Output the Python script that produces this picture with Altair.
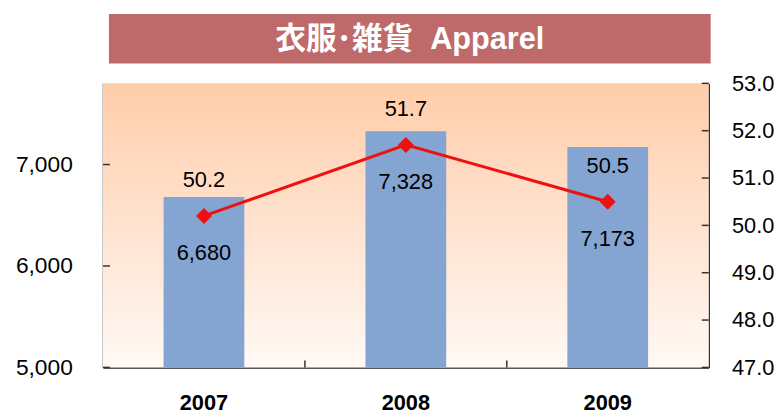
import altair as alt
import pandas as pd

# ---- data ----
years = ["2007", "2008", "2009"]
sales = [6680, 7328, 7173]
ratio = [50.2, 51.7, 50.5]
left_ticks = [5000, 6000, 7000]
right_ticks = [47, 48, 49, 50, 51, 52, 53]
x_boundaries = [1, 2]
title_text = "衣服･雑貨\u00a0 Apparel"

W, H = 612, 287
FONT = "Liberation Sans, Arial, Noto Sans CJK JP, sans-serif"

df = pd.DataFrame({"year": years, "sales": sales, "ratio": ratio})
base = alt.Chart(df)

ysales = alt.Scale(domain=[5000, 7800])
yratio = alt.Scale(domain=[47, 53])
xband = alt.Scale(paddingInner=0.6, paddingOuter=0.3)

one = alt.Data(values=[{"t": title_text}])

bg = alt.Chart(one).mark_rect(
    fill=alt.Gradient(
        gradient="linear",
        stops=[alt.GradientStop(color="#FFCDAA", offset=0),
               alt.GradientStop(color="#FFF9F5", offset=1)],
        x1=0, x2=0, y1=0, y2=1,
    )
).encode(x=alt.value(0), x2=alt.value(W), y=alt.value(0), y2=alt.value(H))

bars = base.mark_bar(color="#84A4D2").encode(
    x=alt.X("year:N", scale=xband, axis=alt.Axis(
        title=None, labelAngle=0, ticks=False, labelFont=FONT, labelFontSize=22,
        labelFontWeight="bold", labelColor="black", labelPadding=26,
        domainColor="#222222", domainWidth=1.5)),
    y=alt.Y("sales:Q", scale=ysales, axis=alt.Axis(
        title=None, values=left_ticks, format=",.0f", ticks=False, grid=False,
        labelFont=FONT, labelFontSize=23, labelColor="black", labelPadding=31,
        domainColor="#222222", domainWidth=1.5)),
    y2=alt.Y2(datum=5000),
)

bt = alt.Chart(pd.DataFrame({"b": x_boundaries})).mark_rule(color="#333333", strokeWidth=1.5).encode(
    x=alt.X("b:Q", scale=alt.Scale(domain=[0, 3]), axis=None),
    y=alt.value(H - 7), y2=alt.value(H),
)
lt = alt.Chart(pd.DataFrame({"v": left_ticks})).mark_rule(color="#333333", strokeWidth=1.5).encode(
    y=alt.Y("v:Q", scale=ysales, axis=None), x=alt.value(0), x2=alt.value(7),
)
rt = alt.Chart(pd.DataFrame({"v": right_ticks})).mark_rule(color="#333333", strokeWidth=1.5).encode(
    y=alt.Y("v:Q", scale=yratio, axis=None), x=alt.value(W - 7), x2=alt.value(W),
)

line = base.mark_line(color="#EE1111", strokeWidth=3).encode(
    x=alt.X("year:N", axis=None),
    y=alt.Y("ratio:Q", scale=yratio, axis=alt.Axis(
        orient="right", title=None, values=right_ticks, format=".1f", ticks=False,
        grid=False, labelFont=FONT, labelFontSize=22, labelColor="black",
        labelPadding=23, domainColor="#222222", domainWidth=1.5)),
)
points = base.mark_point(shape="diamond", filled=True, size=260, color="#EE1111", opacity=1).encode(
    x=alt.X("year:N", axis=None),
    y=alt.Y("ratio:Q", scale=yratio, axis=None),
)
ratio_labels = base.mark_text(dy=-36, fontSize=22, font=FONT, color="black").encode(
    x=alt.X("year:N", axis=None),
    y=alt.Y("ratio:Q", scale=yratio, axis=None),
    text=alt.Text("ratio:Q", format=".1f"),
)
sales_labels = base.mark_text(dy=38, fontSize=22, font=FONT, color="black").encode(
    x=alt.X("year:N", axis=None),
    y=alt.Y("ratio:Q", scale=yratio, axis=None),
    text=alt.Text("sales:Q", format=",.0f"),
)

banner = alt.Chart(one).mark_rect(color="#BF6A6A").encode(
    x=alt.value(6), x2=alt.value(614), y=alt.value(-70), y2=alt.value(-20)
)
title = alt.Chart(one).mark_text(
    font=FONT, fontSize=31, fontWeight="bold", color="white", align="center", baseline="middle"
).encode(x=alt.value(310), y=alt.value(-44), text="t:N")

chart = alt.layer(
    bg, bars, bt, lt, rt, line, points, ratio_labels, sales_labels, banner, title
).resolve_scale(x="independent", y="independent").properties(
    width=W, height=H, autosize="none",
    padding={"left": 96, "top": 74, "right": 66, "bottom": 50},
).configure_view(stroke=None)

chart.save("out.html", embed_options={"renderer": "svg", "actions": False})
